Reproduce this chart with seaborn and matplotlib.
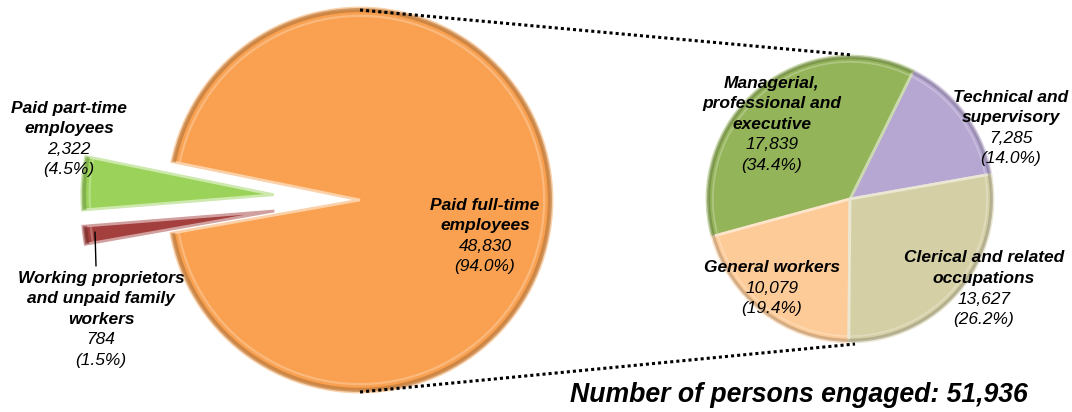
import matplotlib.pyplot as plt
import matplotlib.colors as mcolors
import seaborn as sns

# data
main_labels = ['Paid full-time\nemployees', 'Paid part-time\nemployees',
               'Working proprietors\nand unpaid family\nworkers']
main_values = [48830, 2322, 784]
main_pcts = [94.0, 4.5, 1.5]
main_colors = ['#F9A150', '#9BD35A', '#A33F3C']

occ_labels = ['Technical and\nsupervisory', 'Managerial,\nprofessional and\nexecutive',
              'General workers', 'Clerical and related\noccupations']
occ_values = [7285, 17839, 10079, 13627]
occ_pcts = [14.0, 34.4, 19.4, 26.2]
occ_colors = ['#B6A6D2', '#94B45A', '#FDCB98', '#D5CFA6']

total = sum(main_values)

sns.set_theme(style='white')
plt.rcParams['font.family'] = ['Liberation Sans', 'DejaVu Sans']
plt.rcParams['text.color'] = 'black'

W, H = 1072, 412
fig = plt.figure(figsize=(W / 100, H / 100), dpi=100)
ax = fig.add_axes([0, 0, 1, 1])


def shade(c, f):
    rgb = mcolors.to_rgb(c)
    if f < 0:
        return tuple(v * (1 + f) for v in rgb)
    return tuple(v + (1 - v) * f for v in rgb)


def bevel_pie(values, colors, center, r, start, explode=None):
    if explode is not None:
        explode = [e * r for e in explode]
    kw = dict(center=center, startangle=start, explode=explode, counterclock=True)
    wedges, _ = ax.pie(values, colors=colors, radius=r,
                       wedgeprops=dict(linewidth=2.0), **kw)
    for w, c in zip(wedges, colors):
        w.set_edgecolor(shade(c, 0.5))
    # dark outer rim
    ax.pie(values, colors=[shade(c, -0.3) for c in colors], radius=r,
           wedgeprops=dict(width=r * 0.022, alpha=0.55, linewidth=0), **kw)
    # light inner rim
    ax.pie(values, colors=[shade(c, 0.5) for c in colors], radius=r * 0.965,
           wedgeprops=dict(width=r * 0.012, alpha=0.5, linewidth=0), **kw)


# left pie
bevel_pie(main_values, main_colors, (360, H - 200), 192, 190, explode=[0, 0.45, 0.45])
# right pie
bevel_pie(occ_values, occ_colors, (850, H - 199), 143, 10)

# dotted connector lines
ax.plot([360, 852], [H - 10, H - 55], color='black', lw=2.2, ls=(0, (1, 1)))
ax.plot([360, 855], [H - 392, H - 344], color='black', lw=2.2, ls=(0, (1, 1)))

# leader line for small slice
ax.plot([95, 96], [H - 232, H - 266], color='black', lw=1)


def put_label(x, y_top, name, value, pct, step=20.5):
    lines = name.split('\n')
    for i, ln in enumerate(lines):
        ax.text(x, H - (y_top + i * step), ln, ha='center', va='center',
                fontsize=12.5, fontweight='bold', fontstyle='italic')
    n = len(lines)
    ax.text(x, H - (y_top + n * step), f'{value:,}', ha='center', va='center',
            fontsize=12.5, fontstyle='italic')
    ax.text(x, H - (y_top + (n + 1) * step), f'({pct:.1f}%)',
            ha='center', va='center', fontsize=12.5, fontstyle='italic')


main_pos = [(485, 205), (69, 108), (101, 278)]
occ_pos = [(1011, 97), (772, 83), (772, 268), (984, 258)]
for lab, val, p, (x, y) in zip(main_labels, main_values, main_pcts, main_pos):
    put_label(x, y, lab, val, p)
for lab, val, p, (x, y) in zip(occ_labels, occ_values, occ_pcts, occ_pos):
    put_label(x, y, lab, val, p)

ax.text(799, H - 402, f'Number of persons engaged: {total:,}', ha='center', va='baseline',
        fontsize=19.2, fontweight='bold', fontstyle='italic')

ax.set_xlim(0, W)
ax.set_ylim(0, H)
ax.set_aspect('auto')
ax.axis('off')

plt.savefig('out.png', dpi=100)
plt.close()
